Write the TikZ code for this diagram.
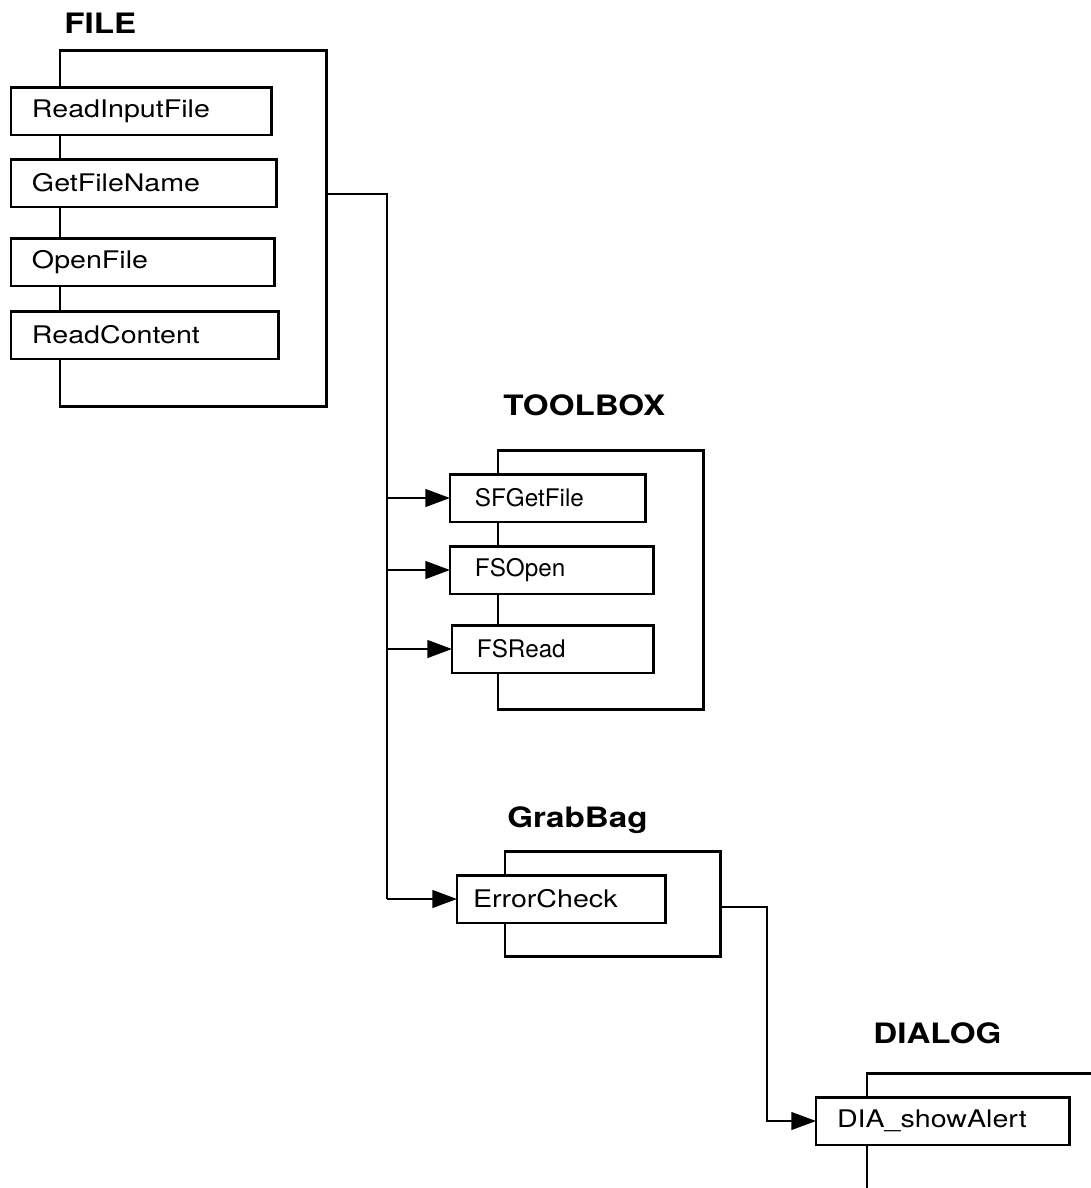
\documentclass[tikz,border=0pt]{standalone}
\usepackage{fontspec}
\newfontfamily\procfont[FakeStretch=1.18]{TeX Gyre Heros}
\newfontfamily\tbfont{TeX Gyre Heros}
\usetikzlibrary{arrows.meta}

\tikzset{
 module/.style={draw, line width=1.7pt, anchor=north west, inner sep=0pt, outer sep=0pt},
 proc/.style={draw, line width=1.7pt, fill=white, anchor=north west, minimum height=0.96cm,
   inner xsep=0.42cm, inner ysep=0pt, outer sep=0pt, align=left,
   font=\procfont\fontsize{13.8}{15}\selectfont},
 tbproc/.style={proc, inner xsep=0.5cm, font=\tbfont\fontsize{13.8}{15}\selectfont},
 title/.style={anchor=base west, inner sep=0pt, font=\procfont\bfseries\fontsize{16}{18}\selectfont},
 link/.style={line width=1.4pt},
 call/.style={link, -{Triangle[length=14pt, width=10pt]}}
}

\begin{document}
\begin{tikzpicture}[x=0.02cm, y=-0.02cm]
 \useasboundingbox (0,0) rectangle (1091,1188);
 \clip (0,0) rectangle (1091,1188);

 % FILE
 \node[title] (filet) at (64,33) {FILE};
 \node[module, minimum width=5.34cm, minimum height=7.14cm] (file) at (60,50) {};
 \node[proc, text width=4.38cm] (readin) at (11,87) {ReadInputFile};
 \node[proc, text width=4.48cm] (getname) at (11,159) {GetFileName};
 \node[proc, text width=4.44cm] (openf) at (11,238) {OpenFile};
 \node[proc, text width=4.52cm] (readc) at (11,311) {ReadContent};

 % TOOLBOX
 \node[title] (toolt) at (503,415) {TOOLBOX};
 \node[module, minimum width=4.12cm, minimum height=5.2cm] (tool) at (498,450) {};
 \node[tbproc, text width=2.92cm] (sfget) at (450,474) {SFGetFile};
 \node[tbproc, text width=3.08cm] (fsopen) at (450,546) {FSOpen};
 \node[tbproc, text width=3.04cm] (fsread) at (452,625) {FSRead};

 % GrabBag
 \node[title] (grabt) at (507,827) {GrabBag};
 \node[module, minimum width=4.32cm, minimum height=2.12cm] (grab) at (505,851) {};
 \node[proc, text width=3.54cm, inner xsep=0.32cm] (check) at (457,875) {ErrorCheck};

 % DIALOG
 \node[title] (dialt) at (873,1043) {DIALOG};
 \node[module, minimum width=6cm, minimum height=4cm] (dial) at (867,1073) {};
 \node[proc, text width=4.24cm] (alert) at (816,1097) {DIA\_showAlert};

 % calls
 \coordinate (bus) at (387,194);
 \draw[link] (file.east |- bus) -- (bus) -- (bus |- check.west);
 \draw[call] (bus |- check.west) -- (check.west);
 \draw[call] (bus |- sfget.west) -- (sfget.west);
 \draw[call] (bus |- fsopen.west) -- (fsopen.west);
 \draw[call] (bus |- fsread.west) -- (fsread.west);

 \coordinate (bus2) at (767,907);
 \draw[call] (grab.east |- bus2) -- (bus2) -- (bus2 |- alert.west) -- (alert.west);
\end{tikzpicture}
\end{document}
